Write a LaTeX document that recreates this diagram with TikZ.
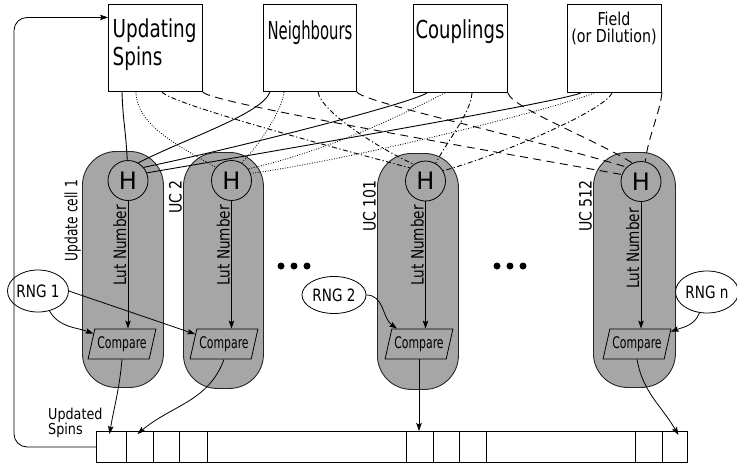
\documentclass[tikz,border=0pt]{standalone}
\usepackage{fontspec}
\setmainfont{DejaVu Sans}
\usetikzlibrary{shapes.geometric,arrows.meta,calc}
\definecolor{pillgray}{RGB}{166,166,166}
\newcommand{\fsz}[3]{\fontsize{#1}{#2}\selectfont\addfontfeatures{FakeStretch=#3}}
\begin{document}
\begin{tikzpicture}[x=1pt,y=1pt,
  box/.style={draw, line width=0.9pt, inner sep=0, anchor=north west},
  pill/.style={draw=black!85, fill=pillgray, line width=0.9pt, rounded corners=34pt, anchor=north west, inner sep=0, minimum height=236pt},
  hnode/.style={circle, draw, fill=pillgray, line width=0.8pt, minimum size=40pt, inner sep=0, font=\fsz{24}{24}{1}},
  cmpbox/.style={trapezium, trapezium left angle=68, trapezium right angle=112, trapezium stretches=true, draw, line width=0.8pt, minimum width=68pt, minimum height=30pt, inner sep=0, font=\fsz{16}{16}{0.68}},
  rng/.style={ellipse, draw, fill=white, line width=0.8pt, inner sep=0, font=\fsz{17}{17}{0.8}},
  cell/.style={draw, line width=0.9pt, inner sep=0, anchor=north west, minimum height=31pt},
  side/.style={rotate=90, inner sep=0, anchor=south east, font=\fsz{17}{17}{0.83}},
  lut/.style={rotate=90, inner sep=0, anchor=base east, font=\fsz{17}{17}{0.8}},
  arr/.style={line width=0.8pt, -{Stealth[length=8pt,width=5.5pt,inset=1.5pt]}},
  lsolid/.style={line width=0.9pt},
  ldot/.style={line width=0.8pt, dash pattern=on 0.9pt off 1.6pt},
  ldashdot/.style={line width=0.9pt, dash pattern=on 5pt off 2.5pt on 1.2pt off 2.5pt},
  ldash/.style={line width=0.9pt, dash pattern=on 8pt off 5.5pt}]
\useasboundingbox (0,0) rectangle (737,-464);

% source boxes
\node[box, minimum width=94pt, minimum height=87pt] (us) at (108,-4) {};
\node[box, minimum width=93pt, minimum height=87pt] (nb) at (263,-4) {};
\node[box, minimum width=94pt, minimum height=88pt] (cp) at (413,-4) {};
\node[box, minimum width=94pt, minimum height=88pt] (fd) at (567,-4) {};
\node[inner sep=0, anchor=north west, align=left, font=\fsz{24.7}{28}{0.745}] (ust) at (112.5,-18.5) {Updating\\Spins};
\node[inner sep=0, anchor=base, font=\fsz{24.7}{28}{0.6}] (nbt) at (310,-39) {Neighbours};
\node[inner sep=0, anchor=base, font=\fsz{24.7}{28}{0.73}] (cpt) at (460,-38) {Couplings};
\node[inner sep=0, anchor=north, align=center, font=\fsz{17.8}{17}{0.8}] (fdt) at (614,-11.5) {Field\\(or Dilution)};

% update cells
\node[pill, minimum width=81pt] (p1) at (82,-151) {};
\node[pill, minimum width=80pt] (p2) at (183,-152) {};
\node[pill, minimum width=81pt] (p3) at (377,-153) {};
\node[pill, minimum width=82pt, minimum height=235pt] (p4) at (593,-152) {};

\node[side, font=\fsz{17}{17}{0.72}] (l1) at (81,-180) {Update cell 1};
\node[side] (l2) at (182,-180) {UC 2};
\node[side] (l3) at (376,-180) {UC 101};
\node[side] (l4) at (592,-180) {UC 512};

\node[hnode] (h1) at (128,-180.5) {H};
\node[hnode] (h2) at (231.5,-180.5) {H};
\node[hnode] (h3) at (425.5,-181) {H};
\node[hnode] (h4) at (641,-181.5) {H};

\node[cmpbox] (c1) at (122,-344) {Compare};
\node[cmpbox] (c2) at (224,-344) {Compare};
\node[cmpbox] (c3) at (419,-344) {Compare};
\node[cmpbox] (c4) at (637,-344) {Compare};

\node[lut] (t1) at (126,-205) {Lut Number};
\node[lut] (t2) at (229.5,-205) {Lut Number};
\node[lut] (t3) at (423.5,-205) {Lut Number};
\node[lut] (t4) at (639,-208) {Lut Number};

\draw[arr] (h1.south) -- (h1.south |- c1.north);
\draw[arr] (h2.south) -- (h2.south |- c2.north);
\draw[arr] (h3.south) -- (h3.south |- c3.north);
\draw[arr] (h4.south) -- (h4.south |- c4.north);

% connectors to H1 (solid)
\draw[lsolid] ([xshift=14pt]us.south west) .. controls +(1,-30) and +(-2,35) .. (h1.92);
\draw[lsolid] ([xshift=7pt]nb.south west) .. controls +(-8,-22) and +(49,25) .. (h1.60);
\draw[lsolid] ([xshift=14pt]cp.south west) .. controls +(-15,-10) and +(100,21) .. (h1.40);
\draw[lsolid] ([xshift=14pt]fd.south west) .. controls +(-20,-9) and +(100,17) .. (h1.22);
% connectors to H2 (dotted)
\draw[ldot] ([xshift=28pt]us.south west) .. controls +(0,-35) and +(-30,18) .. (h2.140);
\draw[ldot] ([xshift=21pt]nb.south west) .. controls +(-2,-20) and +(15,15) .. (h2.60);
\draw[ldot] ([xshift=32pt]cp.south west) .. controls +(-20,-10) and +(90,20) .. (h2.35);
\draw[ldot] ([xshift=27pt]fd.south west) .. controls +(-20,-10) and +(120,17) .. (h2.20);
% connectors to H101 (dash dot)
\draw[ldashdot] ([xshift=54pt]us.south west) .. controls +(8,-12) and +(-60,16) .. (h3.140);
\draw[ldashdot] ([xshift=55pt]nb.south west) .. controls +(3,-20) and +(-35,16) .. (h3.125);
\draw[ldashdot] ([xshift=59pt]cp.south west) .. controls +(-1,-20) and +(10,20) .. (h3.60);
\draw[ldashdot] ([xshift=45pt]fd.south west) .. controls +(-8,-18) and +(60,17) .. (h3.30);
% connectors to H512 (dashed)
\draw[ldash] (us.south east) .. controls +(3,-10) and +(-150,27) .. (h4.160);
\draw[ldash] (nb.south east) .. controls +(4,-10) and +(-100,30) .. (h4.135);
\draw[ldash] (cp.south east) .. controls +(4,-15) and +(-40,25) .. (h4.115);
\draw[ldash] (fd.south east) .. controls +(-2,-20) and +(3,25) .. (h4.78);

% random number generators
\node[rng, minimum width=60pt, minimum height=42pt] (r1) at (38,-291) {RNG 1};
\node[rng, minimum width=64pt, minimum height=37pt] (r2) at (334,-295) {RNG 2};
\node[rng, minimum width=63pt, minimum height=42pt] (rn) at (707,-292) {RNG n};

\draw[arr] (r1) to[out=-60,in=160] (c1);
\draw[arr] (r1.east) -- (c2);
\draw[arr] (r2) to[out=0,in=145] (c3);
\draw[arr] (rn) to[out=-110,in=20] (c4);

% dots
\fill (281,-266) circle (3.5pt) (294,-266) circle (3.5pt) (307,-266) circle (3.5pt);
\fill (497,-266) circle (3.5pt) (510,-266) circle (3.5pt) (523,-266) circle (3.5pt);

% updated spins array
\node[cell, minimum width=30pt] (a1) at (96,-431) {};
\node[cell, minimum width=27pt] (a2) at (126,-431) {};
\node[cell, minimum width=26pt] (a3) at (153,-431) {};
\node[cell, minimum width=28pt] (a4) at (179,-431) {};
\node[cell, minimum width=199pt] (a5) at (207,-431) {};
\node[cell, minimum width=27pt] (a6) at (406,-431) {};
\node[cell, minimum width=26pt] (a7) at (433,-431) {};
\node[cell, minimum width=27pt] (a8) at (459,-431) {};
\node[cell, minimum width=149pt] (a9) at (486,-431) {};
\node[cell, minimum width=27pt] (a10) at (635,-431) {};
\node[cell, minimum width=25pt] (a11) at (662,-431) {};

\node[inner sep=0, anchor=north west, align=left, font=\fsz{15}{14.5}{0.85}] (upd) at (48,-407.5) {Updated\\Spins};

\draw[arr] (c1.south) to[out=-95,in=80] ([xshift=-2pt,yshift=-3pt]a1.north);
\draw[arr] (c2.south) to[out=-110,in=40] ([xshift=-2.5pt,yshift=-3pt]a2.north);
\draw[arr] (c3.south) -- (c3.south |- a6.north);
\draw[arr] (c4.south) to[out=-80,in=120] ([xshift=3.5pt,yshift=-4pt]a11.north);

% feedback
\coordinate (fbx) at (14,-250);
\draw[arr, rounded corners=13pt] (a1.west) -| (fbx) |- ([yshift=30.5pt]us.west);
\end{tikzpicture}
\end{document}
